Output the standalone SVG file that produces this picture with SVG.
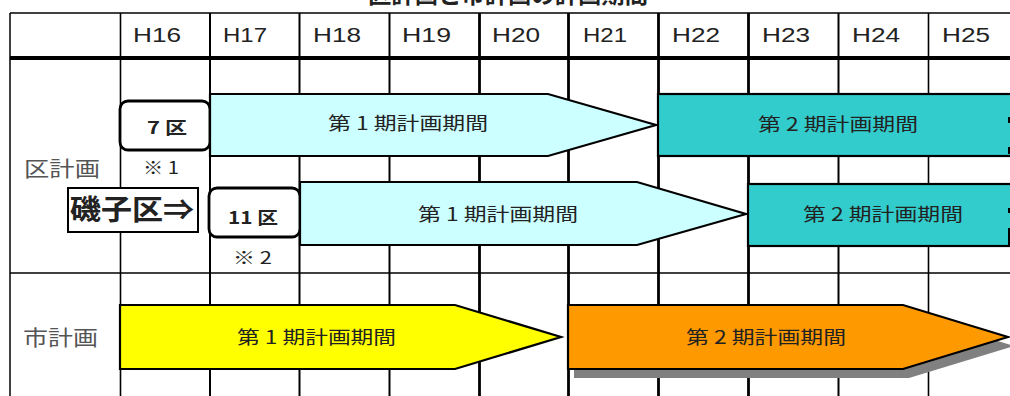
<svg xmlns="http://www.w3.org/2000/svg" width="1010" height="396" viewBox="0 0 1010 396">
<style>
.grid{stroke:#000;fill:none}
.hdr{font-family:"Liberation Sans",Arial,sans-serif;font-size:20px;fill:#222}
.jp{font-family:"Noto Sans CJK JP","Noto Sans",sans-serif;fill:#222}
.bar{font-size:18px}
.arrow{stroke:#000;stroke-width:2.2;stroke-linejoin:miter}
.lbl{font-size:21px;fill:#555}
</style>
<rect width="1010" height="396" fill="#fff"/>
<text class="jp" x="368" y="3" font-size="23" font-weight="bold" textLength="280" lengthAdjust="spacingAndGlyphs" fill="#111">区計画と市計画の計画期間</text>
<g id="grid" class="grid">
<line x1="10" y1="13" x2="1010" y2="13" stroke-width="1.5"/>
<line x1="10" y1="58" x2="1010" y2="58" stroke-width="4"/>
<line x1="10" y1="273" x2="1010" y2="273" stroke-width="1.4"/>
<line x1="10" y1="13" x2="10" y2="396" stroke-width="1.5"/>
<line x1="120.5" y1="13" x2="120.5" y2="396" stroke-width="1.6"/>
<line x1="210" y1="13" x2="210" y2="396" stroke-width="2"/>
<line x1="299.5" y1="13" x2="299.5" y2="396" stroke-width="2"/>
<line x1="389.5" y1="13" x2="389.5" y2="396" stroke-width="2"/>
<line x1="479.5" y1="13" x2="479.5" y2="396" stroke-width="2.8"/>
<line x1="568.5" y1="13" x2="568.5" y2="396" stroke-width="2.8"/>
<line x1="658.5" y1="13" x2="658.5" y2="396" stroke-width="2.8"/>
<line x1="748.5" y1="13" x2="748.5" y2="396" stroke-width="2.8"/>
<line x1="838.5" y1="13" x2="838.5" y2="396" stroke-width="2"/>
<line x1="928.5" y1="13" x2="928.5" y2="396" stroke-width="1.6"/>
</g>
<g id="header">
<text class="hdr" x="133" y="42" textLength="48" lengthAdjust="spacingAndGlyphs">H16</text>
<text class="hdr" x="223" y="42" textLength="44" lengthAdjust="spacingAndGlyphs">H17</text>
<text class="hdr" x="313" y="42" textLength="48" lengthAdjust="spacingAndGlyphs">H18</text>
<text class="hdr" x="402" y="42" textLength="49" lengthAdjust="spacingAndGlyphs">H19</text>
<text class="hdr" x="492" y="42" textLength="48" lengthAdjust="spacingAndGlyphs">H20</text>
<text class="hdr" x="583" y="42" textLength="44" lengthAdjust="spacingAndGlyphs">H21</text>
<text class="hdr" x="672" y="42" textLength="48" lengthAdjust="spacingAndGlyphs">H22</text>
<text class="hdr" x="762" y="42" textLength="48" lengthAdjust="spacingAndGlyphs">H23</text>
<text class="hdr" x="852" y="42" textLength="48" lengthAdjust="spacingAndGlyphs">H24</text>
<text class="hdr" x="942" y="42" textLength="48" lengthAdjust="spacingAndGlyphs">H25</text>
</g>
<g id="row-ku">
<text class="jp lbl" x="24" y="176" textLength="76" lengthAdjust="spacingAndGlyphs">区計画</text>
</g>
<g id="row-shi">
<text class="jp lbl" x="23" y="345" textLength="75" lengthAdjust="spacingAndGlyphs">市計画</text>
</g>
<g id="ku7">
<rect x="120" y="101" width="90" height="49" rx="8" fill="#fff" stroke="#000" stroke-width="2.8"/>
<text class="jp" x="147" y="134" font-size="17" font-weight="bold" textLength="40" lengthAdjust="spacingAndGlyphs">7 区</text>
<text class="jp" x="143" y="174" font-size="17" textLength="36" lengthAdjust="spacingAndGlyphs">※ 1</text>
</g>
<g id="ku7-p1">
<polygon class="arrow" points="210,94 548,94 656,125 548,156 210,156" fill="#CCFFFF"/>
<text class="jp bar" x="328" y="130" textLength="160" lengthAdjust="spacingAndGlyphs">第 1 期計画期間</text>
</g>
<g id="ku7-p2">
<rect class="arrow" x="658" y="94" width="360" height="62" fill="#33CCCC"/>
<rect x="1008" y="117" width="2" height="6" fill="#000"/>
<rect x="1008" y="147" width="2" height="7" fill="#000"/>
<text class="jp bar" x="758" y="131" textLength="160" lengthAdjust="spacingAndGlyphs">第 2 期計画期間</text>
</g>
<g id="isogo">
<rect x="68" y="188" width="130" height="44" fill="#fff" stroke="#000" stroke-width="2"/>
<text class="jp" x="70" y="220" font-size="28" font-weight="bold" fill="#000" textLength="124" lengthAdjust="spacingAndGlyphs">磯子区⇒</text>
</g>
<g id="ku11">
<rect x="209" y="188" width="91" height="49" rx="8" fill="#fff" stroke="#000" stroke-width="2.8"/>
<text class="jp" x="228" y="224" font-size="17" font-weight="bold" textLength="50" lengthAdjust="spacingAndGlyphs">11 区</text>
<text class="jp" x="233" y="264" font-size="17" textLength="39" lengthAdjust="spacingAndGlyphs">※ 2</text>
</g>
<g id="ku11-p1">
<polygon class="arrow" points="300,182 637,182 746,214 637,245 300,245" fill="#CCFFFF"/>
<text class="jp bar" x="418" y="221" textLength="160" lengthAdjust="spacingAndGlyphs">第 1 期計画期間</text>
</g>
<g id="ku11-p2">
<rect class="arrow" x="748" y="184" width="270" height="62" fill="#33CCCC"/>
<rect x="1008" y="208" width="2" height="5" fill="#000"/>
<rect x="1008" y="228" width="2" height="17" fill="#000"/>
<text class="jp bar" x="803" y="221" textLength="160" lengthAdjust="spacingAndGlyphs">第 2 期計画期間</text>
</g>
<g id="shi-p1">
<polygon class="arrow" points="120,305 455,305 561,337 455,369 120,369" fill="#FFFF00" stroke-width="2.6"/>
<text class="jp bar" x="237" y="344" textLength="159" lengthAdjust="spacingAndGlyphs">第 1 期計画期間</text>
</g>
<g id="shi-p2">
<polygon points="574,314 909,314 1014,346 909,378 574,378" fill="#808080"/>
<polygon class="arrow" points="568,305 903,305 1008,337 903,369 568,369" fill="#FF9900" stroke-width="4"/>
<text class="jp bar" x="686" y="344" textLength="160" lengthAdjust="spacingAndGlyphs">第 2 期計画期間</text>
</g>
<g id="connectors"></g>
</svg>
